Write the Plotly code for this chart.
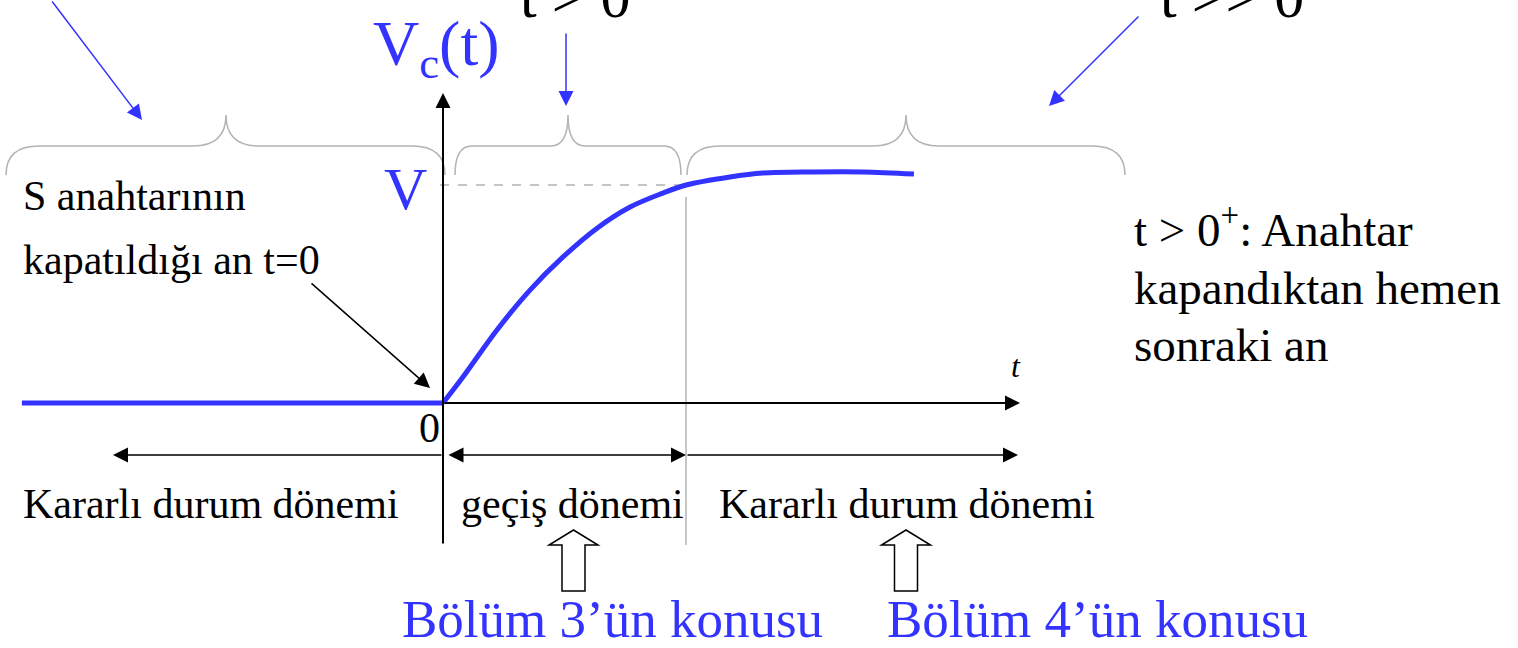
import plotly.graph_objects as go

W, H = 1518, 648

# ---- data: capacitor voltage Vc(t) (t in time-constant-like units, Vc in units of V)
t_flat = [-1.733, 0.0]
vc_flat = [0.0, 0.0]
t_rise = [0.0, 0.082, 0.222, 0.358, 0.494, 0.634, 0.770, 0.905, 1.0,
          1.181, 1.317, 1.523, 1.728, 1.938]
vc_rise = [0.0, 0.119, 0.335, 0.518, 0.670, 0.802, 0.899, 0.963, 1.0,
           1.037, 1.055, 1.060, 1.060, 1.050]
V_LEVEL = 1.0
T_TRANSIENT_END = 1.0

# calibration of the drawing (pixel position of the origin and unit sizes)
X0, XS = 443.0, 243.0
Y0, YS = 403.0, 218.0

BLUE = "rgb(51,51,255)"
GREY = "#b3b3b3"
FONT = "Liberation Serif, Times New Roman, serif"


def P(px, py):
    return px / W, 1 - py / H


def xd(t):
    return X0 + t * XS


def yd(v):
    return Y0 - v * YS


fig = go.Figure()
fig.add_trace(go.Scatter(x=t_flat, y=vc_flat, mode="lines",
                         line=dict(color=BLUE, width=5),
                         hoverinfo="skip", showlegend=False))
fig.add_trace(go.Scatter(x=t_rise, y=vc_rise, mode="lines",
                         line=dict(color=BLUE, width=5, shape="spline", smoothing=1.0),
                         hoverinfo="skip", showlegend=False))

shapes = []


def line(x1, y1, x2, y2, color="black", width=1.5, dash=None):
    a, b = P(x1, y1)
    c, d = P(x2, y2)
    shapes.append(dict(type="line", xref="paper", yref="paper", x0=a, y0=b, x1=c, y1=d,
                       line=dict(color=color, width=width, dash=dash), layer="below"))


def fmt(x, y):
    a, b = P(x, y)
    return f"{a:.6f},{b:.6f}"


def path(cmds, color, width=1.5, fill=None):
    s = ""
    for cmd, pts in cmds:
        s += cmd + " ".join(fmt(x, y) for x, y in pts) + " "
    if fill is not None:
        s += "Z"
    shapes.append(dict(type="path", xref="paper", yref="paper", path=s.strip(),
                       line=dict(color=color, width=width),
                       fillcolor=fill if fill else "rgba(0,0,0,0)"))


def brace(xl, xr, xm, r, yend=175, ymid=146, ypeak=115):
    path([("M", [(xl, yend)]),
          ("Q", [(xl, ymid), (xl + r, ymid)]),
          ("L", [(xm - r, ymid)]),
          ("Q", [(xm, ymid), (xm, ypeak)]),
          ("Q", [(xm, ymid), (xm + r, ymid)]),
          ("L", [(xr - r, ymid)]),
          ("Q", [(xr, ymid), (xr, yend)])], GREY, 1.5)


def block_arrow(cx, top=530, head_base=545, bottom=591, hw=24.5, sw=11.5):
    pts = [(cx + hw, head_base), (cx + sw, head_base), (cx + sw, bottom),
           (cx - sw, bottom), (cx - sw, head_base), (cx - hw, head_base)]
    cmds = [("M", [(cx, top)])] + [("L", [p]) for p in pts]
    path(cmds, "black", 1.5, fill="white")


# braces
brace(6, 445, 226, 33)
brace(455, 681, 568, 17)
brace(687, 1125, 906, 33)

# dashed V level and transient-end marker
line(440, yd(V_LEVEL), xd(T_TRANSIENT_END), yd(V_LEVEL), GREY, 1.5, "dash")
line(xd(T_TRANSIENT_END), 197, xd(T_TRANSIENT_END), 545, GREY, 1.5)

block_arrow(573.5)
block_arrow(906)

annotations = []


def arrow(x_tail, y_tail, x_head, y_head, color="black", width=1.5, size=2.0, both=False):
    hx, hy = P(x_head, y_head)
    annotations.append(dict(x=hx, y=hy, xref="paper", yref="paper", text="",
                            showarrow=True, ax=x_tail - x_head, ay=y_tail - y_head,
                            axref="pixel", ayref="pixel",
                            arrowhead=2, arrowsize=size, arrowwidth=width,
                            arrowcolor=color, startarrowhead=2, startarrowsize=size,
                            arrowside="end+start" if both else "end",
                            standoff=0, startstandoff=0))


# coordinate axes
arrow(xd(0), 545, xd(0), 93, width=2, size=1.5)
arrow(xd(0), yd(0), 1020, yd(0), width=2, size=1.5)

# period arrows
arrow(xd(0), 455, 113, 455)
arrow(447, 455, xd(T_TRANSIENT_END), 455, both=True)
arrow(xd(T_TRANSIENT_END), 455, 1018, 455)

# pointer arrows
arrow(310, 282, 430, 388)
arrow(51, -2, 142, 120, color=BLUE)
arrow(566, 32, 566, 106, color=BLUE)
arrow(1140, 15, 1049, 106, color=BLUE)


def txt(s, x, baseline, size, color="black", anchor="left", italic=False):
    cy = baseline - 0.3375 * size
    px, py = P(x, cy)
    f = dict(family=FONT, size=size, color=color)
    if italic:
        f["style"] = "italic"
    annotations.append(dict(x=px, y=py, xref="paper", yref="paper", text=s,
                            showarrow=False, xanchor=anchor, yanchor="middle",
                            font=f, borderpad=0))


txt("t > 0", 519, 17, 60)
txt("t >> 0", 1159, 17, 60)
txt("V<sub>c</sub>(t)", 372, 70, 64, BLUE)
txt("V", 428, 209, 60, BLUE, anchor="right")
txt("S anahtarının", 22, 210, 42)
txt("kapatıldığı an t=0", 22, 274, 42)
txt("t > 0<sup>+</sup>: Anahtar", 1133, 242, 47)
txt("kapandıktan hemen", 1133, 304, 47)
txt("sonraki an", 1133, 361, 47)
txt("t", 1010, 377, 32, italic=True)
txt("0", 441, 442, 42, anchor="right")
txt("Kararlı durum dönemi", 22, 518, 42)
txt("geçiş dönemi", 460, 518, 42)
txt("Kararlı durum dönemi", 718, 518, 42)
txt("Bölüm 3’ün konusu", 401, 637, 53, BLUE)
txt("Bölüm 4’ün konusu", 886, 637, 53, BLUE)

fig.update_layout(
    width=W, height=H, autosize=False,
    margin=dict(l=0, r=0, t=0, b=0),
    paper_bgcolor="white", plot_bgcolor="white",
    xaxis=dict(range=[(0 - X0) / XS, (W - X0) / XS], visible=False, domain=[0, 1]),
    yaxis=dict(range=[(Y0 - H) / YS, Y0 / YS], visible=False, domain=[0, 1]),
    shapes=shapes, annotations=annotations, showlegend=False,
)

fig.write_html("out.html", config={"displayModeBar": False},
               post_script="document.body.style.margin='0';document.body.style.overflow='hidden';")
